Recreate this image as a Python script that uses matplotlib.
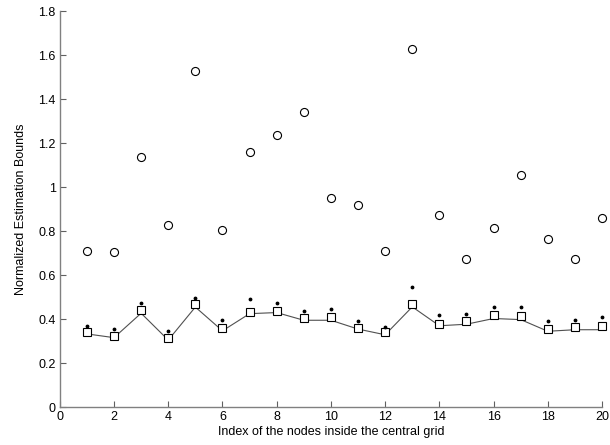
import matplotlib
matplotlib.use('Agg')
import matplotlib.pyplot as plt
from matplotlib.ticker import FuncFormatter
import numpy as np

node_idx = np.arange(1, 21)

# open circles: upper bound values
circle_vals = [0.708, 0.705, 1.136, 0.830, 1.527, 0.806, 1.160, 1.238, 1.341, 0.952,
               0.921, 0.708, 1.630, 0.872, 0.672, 0.815, 1.057, 0.765, 0.675, 0.860]
# squares
square_vals = [0.340, 0.322, 0.440, 0.314, 0.467, 0.358, 0.433, 0.438, 0.405, 0.408,
               0.361, 0.340, 0.471, 0.376, 0.390, 0.418, 0.414, 0.355, 0.364, 0.370]
# small dots
dot_vals = [0.370, 0.356, 0.474, 0.347, 0.496, 0.398, 0.492, 0.474, 0.435, 0.445,
            0.390, 0.365, 0.546, 0.417, 0.424, 0.456, 0.456, 0.390, 0.395, 0.410]
# solid line
line_vals = [0.333, 0.316, 0.427, 0.305, 0.455, 0.347, 0.425, 0.430, 0.395, 0.395,
             0.355, 0.329, 0.456, 0.370, 0.377, 0.403, 0.398, 0.345, 0.352, 0.352]

plt.rcParams['font.family'] = ['Liberation Sans', 'DejaVu Sans']

fig = plt.figure(figsize=(6.1, 4.45), dpi=100)
ax = fig.add_axes([0.098, 0.085, 0.889, 0.89])

ax.plot(node_idx, line_vals, color='#505050', lw=0.8, zorder=2)
ax.plot(node_idx, square_vals, ls='none', marker='s', ms=5.5, mfc='white',
        mec='black', mew=0.8, zorder=3, clip_on=False)
ax.plot(node_idx, circle_vals, ls='none', marker='o', ms=5.8, mfc='white',
        mec='black', mew=0.8, zorder=3, clip_on=False)
ax.plot(node_idx, dot_vals, ls='none', marker='.', ms=3.5, color='black',
        zorder=3, clip_on=False)

ax.set_xlim(0, 20)
ax.set_ylim(0, 1.8)
ax.set_xticks(np.arange(0, 21, 2))
ax.set_yticks(np.arange(0, 1.81, 0.2))
ax.yaxis.set_major_formatter(FuncFormatter(lambda v, p: f'{v:g}'))

for s in ['top', 'right']:
    ax.spines[s].set_visible(False)
for s in ['left', 'bottom']:
    ax.spines[s].set_color('#808080')
    ax.spines[s].set_linewidth(1.0)
ax.tick_params(direction='in', length=4, width=0.8, color='#606060',
               labelsize=9, pad=3)

ax.set_xlabel('Index of the nodes inside the central grid', fontsize=9, labelpad=2)
ax.set_ylabel('Normalized Estimation Bounds', fontsize=9, labelpad=8)

fig.savefig('out.png', dpi=100)
